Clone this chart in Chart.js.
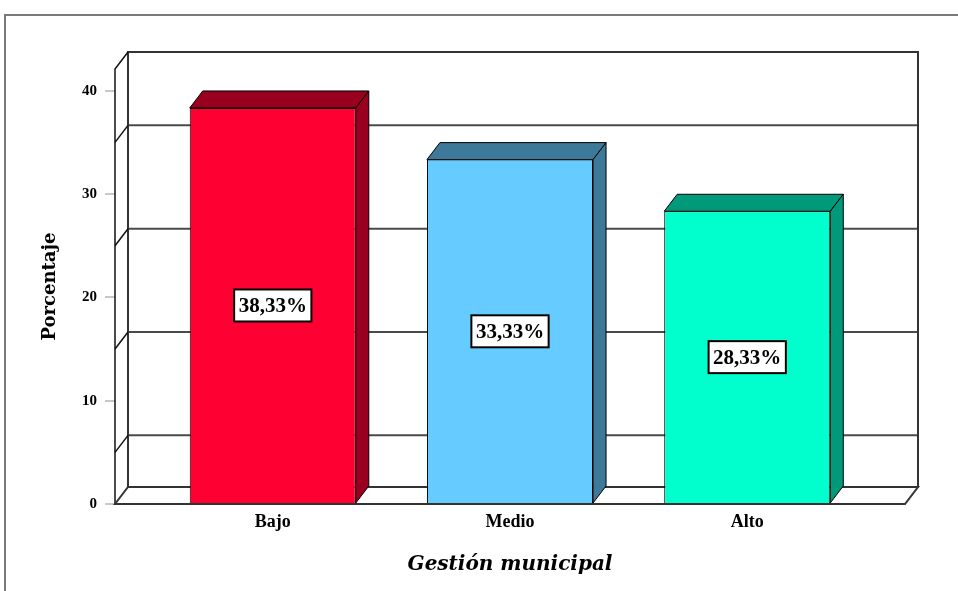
<!DOCTYPE html>
<html>
<head>
<meta charset="utf-8">
<script src="https://cdn.jsdelivr.net/npm/chart.js@4/dist/chart.umd.min.js"></script>
<style>
  html, body { margin: 0; padding: 0; background: #fff; }
  #wrap { width: 958px; height: 591px; }
</style>
</head>
<body>
<div id="wrap"><canvas id="c" width="958" height="591"></canvas></div>
<script>
// Gestión municipal: porcentaje por nivel
const categories = ['Bajo', 'Medio', 'Alto'];
const percentages = [38.33, 33.33, 28.33];
const yTicks = [0, 10, 20, 30, 40];
const wallLines = [5, 15, 25, 35];

const frontColors = ['#FF0033', '#66CCFF', '#00FFCC'];
const shadeColors = ['#99001F', '#3D7A99', '#009979'];

const TITLE_FONT = '"DejaVu Serif", "Liberation Serif", serif';
const LABEL_FONT = '"Liberation Serif", "DejaVu Serif", serif';
const depth = { dx: 13, dy: 17 };

const fmt = v => v.toFixed(2).replace('.', ',') + '%';

// 3D box (back wall, left wall, floor), bar side/top faces and value labels
const box3d = {
  id: 'box3d',
  beforeDraw(chart) {
    const { ctx, width, height } = chart;
    ctx.save();
    ctx.fillStyle = '#fff';
    ctx.fillRect(0, 0, width, height);
    ctx.strokeStyle = '#7a7a7a';
    ctx.lineWidth = 2;
    ctx.beginPath();
    ctx.moveTo(5, height);
    ctx.lineTo(5, 15);
    ctx.lineTo(width, 15);
    ctx.stroke();
    ctx.restore();
  },
  beforeDatasetsDraw(chart) {
    const { ctx, chartArea: a, scales: { y } } = chart;
    const { dx, dy } = depth;
    ctx.save();
    // back wall gridlines
    ctx.strokeStyle = '#4a4a4a';
    ctx.lineWidth = 2;
    wallLines.forEach(v => {
      const yy = y.getPixelForValue(v) - dy;
      ctx.beginPath();
      ctx.moveTo(a.left + dx, yy);
      ctx.lineTo(a.right + dx, yy);
      ctx.stroke();
    });
    // back wall outline
    ctx.strokeStyle = '#333';
    ctx.strokeRect(a.left + dx, a.top - dy, a.right - a.left, a.bottom - a.top);
    // left wall
    ctx.strokeStyle = '#111';
    ctx.lineWidth = 1.5;
    wallLines.forEach(v => {
      const yy = y.getPixelForValue(v);
      ctx.beginPath();
      ctx.moveTo(a.left, yy);
      ctx.lineTo(a.left + dx, yy - dy);
      ctx.stroke();
    });
    ctx.beginPath();
    ctx.moveTo(a.left + dx, a.top - dy);
    ctx.lineTo(a.left, a.top);
    ctx.lineTo(a.left, a.bottom);
    ctx.stroke();
    // floor
    ctx.lineWidth = 2;
    ctx.strokeStyle = '#333';
    ctx.beginPath();
    ctx.moveTo(a.left, a.bottom);
    ctx.lineTo(a.left + dx, a.bottom - dy);
    ctx.lineTo(a.right + dx, a.bottom - dy);
    ctx.lineTo(a.right, a.bottom);
    ctx.closePath();
    ctx.stroke();
    ctx.restore();
  },
  afterDatasetsDraw(chart) {
    const { ctx } = chart;
    const { dx, dy } = depth;
    const meta = chart.getDatasetMeta(0);
    ctx.save();
    ctx.lineWidth = 1;
    ctx.strokeStyle = '#000';
    ctx.lineJoin = 'miter';
    meta.data.forEach((bar, i) => {
      const { x, y, base, width } = bar.getProps(['x', 'y', 'base', 'width'], true);
      const l = x - width / 2, r = x + width / 2;
      ctx.fillStyle = shadeColors[i];
      // top face
      ctx.beginPath();
      ctx.moveTo(l, y);
      ctx.lineTo(l + dx, y - dy);
      ctx.lineTo(r + dx, y - dy);
      ctx.lineTo(r, y);
      ctx.closePath();
      ctx.fill();
      ctx.stroke();
      // side face
      ctx.beginPath();
      ctx.moveTo(r, y);
      ctx.lineTo(r + dx, y - dy);
      ctx.lineTo(r + dx, base - dy);
      ctx.lineTo(r, base);
      ctx.closePath();
      ctx.fill();
      ctx.stroke();
    });
    // value labels
    ctx.font = 'bold 21px ' + LABEL_FONT;
    ctx.textAlign = 'center';
    ctx.textBaseline = 'middle';
    meta.data.forEach((bar, i) => {
      const { x, y, base } = bar.getProps(['x', 'y', 'base'], true);
      const cy = (y + base) / 2;
      const txt = fmt(percentages[i]);
      const w = ctx.measureText(txt).width + 9;
      const h = 32;
      ctx.fillStyle = '#fff';
      ctx.fillRect(x - w / 2, cy - h / 2, w, h);
      ctx.lineWidth = 2;
      ctx.strokeStyle = '#000';
      ctx.strokeRect(x - w / 2, cy - h / 2, w, h);
      ctx.fillStyle = '#000';
      ctx.fillText(txt, x, cy + 1);
    });
    ctx.restore();
  }
};

new Chart(document.getElementById('c'), {
  type: 'bar',
  data: {
    datasets: [{
      data: percentages.map((v, i) => ({ x: i, y: v })),
      backgroundColor: frontColors,
      borderColor: '#000',
      borderWidth: 1,
      barPercentage: 0.7,
      categoryPercentage: 1
    }]
  },
  options: {
    responsive: false,
    animation: false,
    events: [],
    layout: { padding: { top: 69, right: 53, left: 0, bottom: 0 } },
    plugins: { legend: { display: false }, tooltip: { enabled: false } },
    scales: {
      x: {
        type: 'linear',
        offset: false,
        min: -0.665,
        max: 2.665,
        afterBuildTicks: s => { s.ticks = categories.map((_, i) => ({ value: i })); },
        afterFit: s => { s.height = 87; },
        grid: { display: false, drawTicks: false },
        border: { display: false },
        ticks: {
          padding: 8,
          color: '#000',
          autoSkip: false,
          maxRotation: 0,
          font: { family: LABEL_FONT, size: 18, weight: 'bold' },
          callback: v => categories[v]
        },
        title: {
          display: true,
          text: 'Gestión municipal',
          color: '#000',
          padding: { top: 0, bottom: 14 },
          font: { family: TITLE_FONT, size: 20, weight: 'bold', style: 'italic' }
        }
      },
      y: {
        min: 0,
        max: 42.1,
        afterBuildTicks: s => { s.ticks = yTicks.map(v => ({ value: v })); },
        afterFit: s => { s.width = 115; },
        grid: { drawOnChartArea: false, drawTicks: true, tickLength: 10, color: '#c8c8c8', lineWidth: 2 },
        border: { display: false },
        ticks: {
          padding: 8,
          color: '#000',
          font: { family: LABEL_FONT, size: 15, weight: 'bold' }
        },
        title: {
          display: true,
          text: 'Porcentaje',
          color: '#000',
          padding: { top: 40, bottom: 0 },
          font: { family: TITLE_FONT, size: 18, weight: 'bold' }
        }
      }
    }
  },
  plugins: [box3d]
});
</script>
</body>
</html>
